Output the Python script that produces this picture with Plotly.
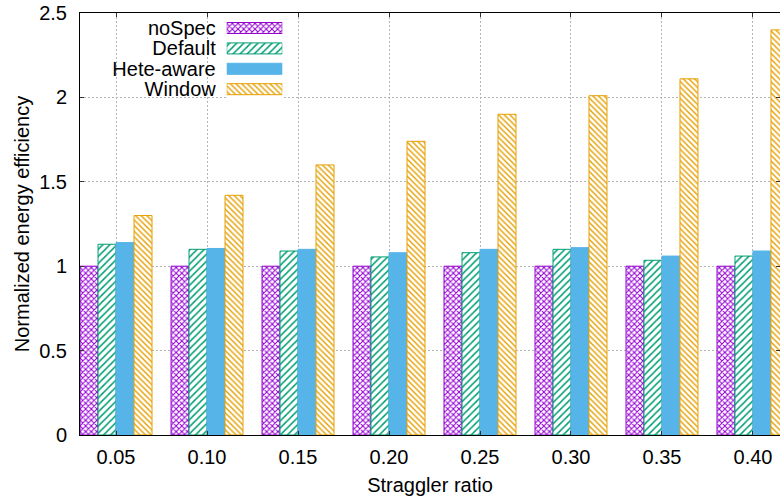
import plotly.graph_objects as go

ratios = ["0.05", "0.10", "0.15", "0.20", "0.25", "0.30", "0.35", "0.40"]
series_names = ["noSpec", "Default", "Hete-aware", "Window"]
nospec = [1.00, 1.00, 1.00, 1.00, 1.00, 1.00, 1.00, 1.00]
default = [1.13, 1.10, 1.09, 1.055, 1.08, 1.10, 1.035, 1.06]
hete_aware = [1.14, 1.105, 1.10, 1.08, 1.10, 1.11, 1.06, 1.09]
window = [1.30, 1.42, 1.60, 1.74, 1.90, 2.01, 2.11, 2.40]
y_ticks = [0, 0.5, 1, 1.5, 2, 2.5]

values = [nospec, default, hete_aware, window]
colors = ["#9400D3", "#009E73", "#56B4E9", "#E69F00"]
shapes = ["x", "/", "", "\\"]
sizes = [4, 5, 6, 4]
solids = [0.45, 0.3, 0.3, 0.35]

FONT = "Liberation Sans, Arial, sans-serif"
fig = go.Figure()

for name, vals, col, shp, sz, so in zip(series_names, values, colors, shapes, sizes, solids):
    pat = dict(shape=shp, fgcolor=col, bgcolor="white" if shp else None,
               fillmode="replace", size=sz, solidity=so)
    fig.add_trace(go.Bar(
        x=ratios, y=vals, name=name,
        marker=dict(color=col, line=dict(color=col, width=1), pattern=pat),
        showlegend=False,
    ))
    # key swatch drawn on a small helper axis pair
    fig.add_trace(go.Bar(
        x=[1], y=[name], orientation="h", xaxis="x2", yaxis="y2",
        width=0.54, offset=-0.27, showlegend=False, hoverinfo="skip",
        marker=dict(color=col, line=dict(color=col, width=1), pattern=pat),
    ))

grid = dict(showgrid=True, gridcolor="#b4b4b4", gridwidth=1, griddash="2px,2px")

fig.update_layout(
    width=780, height=503,
    margin=dict(l=80, r=0, t=13, b=68),
    paper_bgcolor="white", plot_bgcolor="white",
    barmode="group", bargap=0.209, bargroupgap=0,
    font=dict(family=FONT, size=20, color="black"),
    xaxis=dict(type="category", categoryarray=ratios, range=[-0.396, 7.297],
               showline=True, linecolor="black", linewidth=1, mirror="ticks",
               ticks="inside", ticklen=4, tickcolor="#333", automargin=False,
               ticklabelstandoff=4, zeroline=False,
               title=dict(text="Straggler ratio", standoff=10, font=dict(size=20)),
               **grid),
    yaxis=dict(range=[0, 2.5], tickvals=y_ticks, automargin=False,
               showline=True, linecolor="black", linewidth=1, mirror="ticks",
               ticks="inside", ticklen=4, tickcolor="#333",
               ticklabelstandoff=8, zeroline=False,
               title=dict(text="Normalized energy efficiency", standoff=4, font=dict(size=20)),
               **grid),
    xaxis2=dict(domain=[0.2096, 0.289], range=[0, 1], anchor="y2", automargin=False,
                showgrid=False, showline=False, showticklabels=False, zeroline=False,
                fixedrange=True),
    yaxis2=dict(domain=[0.7953, 0.9886], anchor="x2", type="category",
                categoryarray=series_names, range=[3.5, -0.5], automargin=False,
                tickmode="array", tickvals=series_names, ticktext=series_names,
                showgrid=False, showline=False, zeroline=False, ticks="",
                ticklabelstandoff=10, fixedrange=True),
    shapes=[dict(type="rect", xref="x2", yref="y2",
                 x0=-2.58, x1=1.17, y0=-0.52, y1=3.52,
                 fillcolor="white", line=dict(width=0), layer="below")],
)

fig.write_html("out.html", config={"displayModeBar": False},
               post_script="document.body.style.margin='0';document.body.style.overflow='hidden';")
